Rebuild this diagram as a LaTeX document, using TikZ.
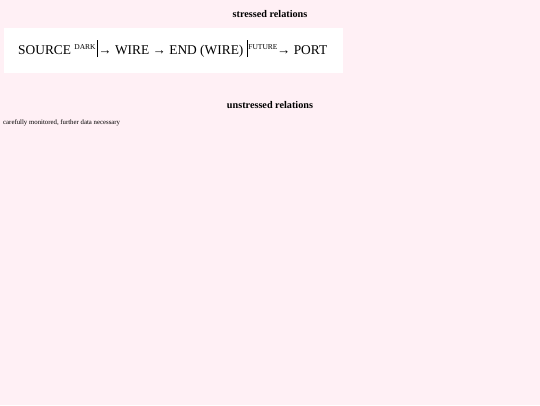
\documentclass[tikz,border=0pt]{standalone}
\usepackage{fontspec}
\setmainfont{Liberation Serif}
\definecolor{bgpink}{HTML}{FFF0F5}
\newcommand{\supsm}[1]{\raisebox{0.8ex}{\fontsize{7.5}{8}\selectfont #1}}
\newcommand{\tallbar}{\rule[-0.5ex]{0.6pt}{2.8ex}}
\tikzset{
  heading/.style={font=\bfseries\fontsize{10.2}{12}\selectfont, inner sep=0pt},
  chain/.style={font=\fontsize{13.4}{16}\selectfont, inner sep=0pt, anchor=base west},
  note/.style={font=\fontsize{6.8}{8}\selectfont, inner sep=0pt, anchor=west},
  panel/.style={fill=white, draw=none}
}
\begin{document}
\begin{tikzpicture}[x=1pt,y=1pt]
  \fill[bgpink] (0,0) rectangle (540,-405);
  \useasboundingbox (0,0) rectangle (540,-405);
  \node[heading] (h1) at (270,-14.5) {stressed relations};
  \fill[panel] (4,-28) rectangle (343,-73);
  \node[chain] (c) at (18,-54) {SOURCE \supsm{DARK}\kern1pt\tallbar\kern1pt→ WIRE → END (WIRE) \tallbar\kern1pt\supsm{FUTURE}\kern-0.5pt→ PORT};
  \node[heading] (h2) at (270,-105.5) {unstressed relations};
  \node[note] (n) at (3,-123) {carefully monitored, further data necessary};
\end{tikzpicture}
\end{document}
